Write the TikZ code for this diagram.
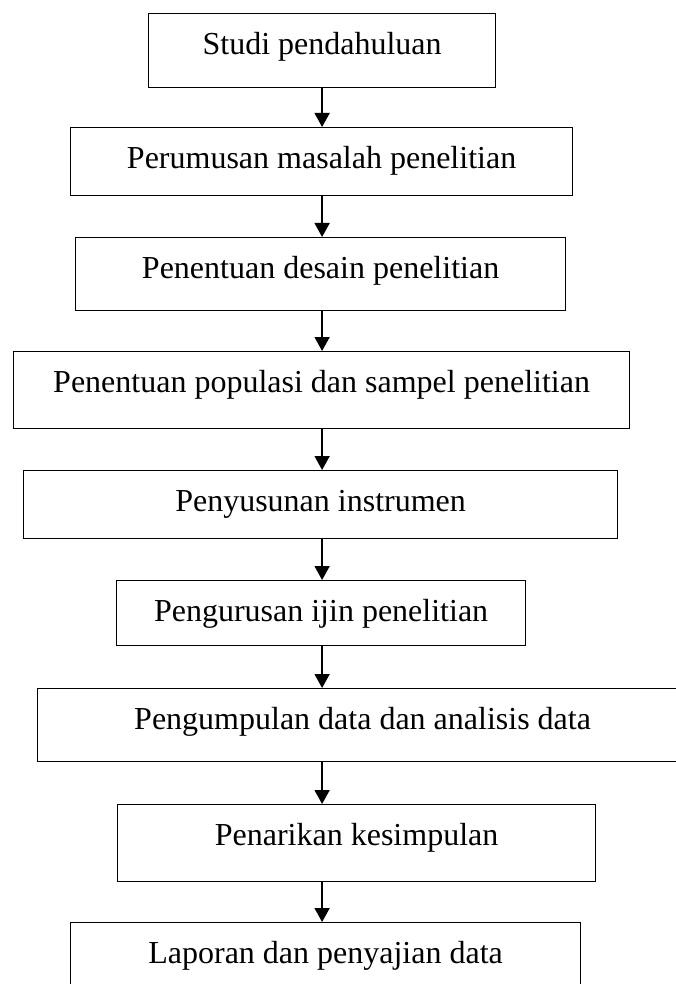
\documentclass[tikz,border=0pt]{standalone}
\usepackage{fontspec}
\setmainfont{Liberation Serif}
\usepackage{tikz}
\usetikzlibrary{arrows.meta}
\tikzset{
  stepbox/.style = {rectangle, draw=black, line width=1.2pt, inner sep=0pt,
    anchor=north west, text height=41pt,
    font=\fontsize{32}{38}\selectfont},% kotak tahap penelitian
  flow/.style = {-{Triangle[length=14pt,width=15pt]}, line width=1.8pt}% panah alur
}

\begin{document}
\begin{tikzpicture}[x=1pt, y=-1pt]
\useasboundingbox (0,0) rectangle (675,984);

\node[stepbox, minimum width=347pt, text depth=33pt] (s1) at (148,13) {Studi pendahuluan};
\node[stepbox, minimum width=502pt, text depth=27pt] (s2) at (70,127) {Perumusan masalah penelitian};
\node[stepbox, minimum width=490pt, text depth=32pt] (s3) at (75,237) {Penentuan desain penelitian};
\node[stepbox, minimum width=616pt, text depth=36pt] (s4) at (13,351) {Penentuan populasi dan sampel penelitian};
\node[stepbox, minimum width=594pt, text depth=27pt] (s5) at (23,470) {Penyusunan instrumen};
\node[stepbox, minimum width=409pt, text depth=24pt] (s6) at (116,580) {Pengurusan ijin penelitian};
\node[stepbox, minimum width=650pt, text depth=32pt] (s7) at (37,688) {Pengumpulan data dan analisis data};
\node[stepbox, minimum width=478pt, text depth=36pt] (s8) at (117,804) {Penarikan kesimpulan};
\node[stepbox, minimum width=510pt, text depth=40pt] (s9) at (70,922) {Laporan dan penyajian data};

\draw[flow] (s1.south) -- (s2.north -| s1.south);
\draw[flow] (s2.south -| s1.south) -- (s3.north -| s1.south);
\draw[flow] (s3.south -| s1.south) -- (s4.north -| s1.south);
\draw[flow] (s4.south -| s1.south) -- (s5.north -| s1.south);
\draw[flow] (s5.south -| s1.south) -- (s6.north -| s1.south);
\draw[flow] (s6.south -| s1.south) -- (s7.north -| s1.south);
\draw[flow] (s7.south -| s1.south) -- (s8.north -| s1.south);
\draw[flow] (s8.south -| s1.south) -- (s9.north -| s1.south);
\end{tikzpicture}
\end{document}
